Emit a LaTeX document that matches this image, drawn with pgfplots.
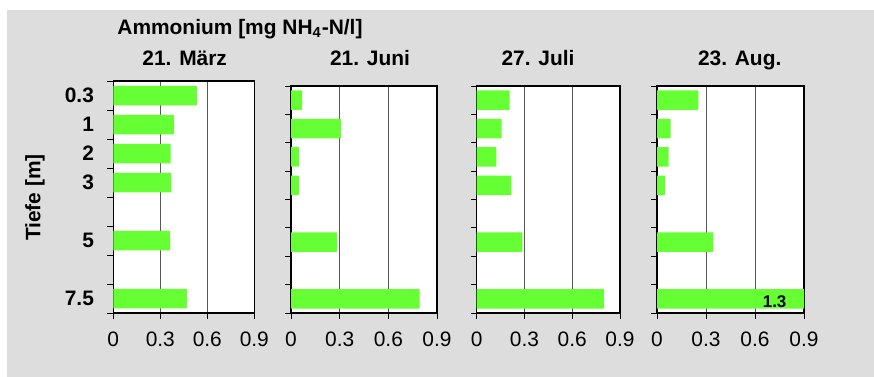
\documentclass[border=0pt]{standalone}
\usepackage{pgfplots}
\pgfplotsset{compat=1.18}
\usepackage{fontspec}
\setmainfont{Liberation Sans}
\definecolor{bg}{RGB}{221,221,221}
\definecolor{barg}{RGB}{102,255,51}
\pgfplotsset{
 panel/.style={
  scale only axis, xbar, bar width=9.75bp,
  xmin=0, xmax=0.9, ymin=-0.5, ymax=7.5, y dir=reverse,
  axis background/.style={fill=white},
  xtick={0,0.3,0.6,0.9}, xmajorgrids, grid style={black!65, line width=0.5bp},
  ytick={-0.5,0.5,1.5,2.5,3.5,4.5,5.5,6.5,7.5}, yticklabels={},
  xtick pos=bottom, ytick pos=left,
  tick align=outside, major tick length=3bp, tick style={black, line width=0.5bp},
  axis line style={black, line width=0.6bp},
  /pgf/number format/assume math mode=true,
  /pgf/number format/fixed,
  xticklabel style={font=\fontsize{10.5}{12}\selectfont, inner sep=0pt, anchor=north, yshift=-6bp},
  height=113.5bp,
 },
}
\begin{document}
\begin{tikzpicture}
\path[use as bounding box, fill=white] (0bp,0bp) rectangle (437bp,-188.5bp);
\fill[bg] (3.5bp,-5bp) rectangle (437bp,-188.5bp);
\node[anchor=base west, inner sep=0pt, font=\fontsize{10.5}{12}\selectfont\bfseries] at (58.5bp,-17bp) {Ammonium [mg NH\textsubscript{4}-N/l]};
\node[anchor=base, inner sep=0pt, font=\fontsize{10.5}{12}\selectfont\bfseries] at (92.35bp,-32.75bp) {21. März};
\node[anchor=base, inner sep=0pt, font=\fontsize{10.5}{12}\selectfont\bfseries] at (185bp,-32.75bp) {21. Juni};
\node[anchor=base, inner sep=0pt, font=\fontsize{10.5}{12}\selectfont\bfseries] at (269bp,-32.75bp) {27. Juli};
\node[anchor=base, inner sep=0pt, font=\fontsize{10.5}{12}\selectfont\bfseries] at (369.85bp,-32.75bp) {23. Aug.};
\node[rotate=90, inner sep=0pt, font=\fontsize{10.5}{12}\selectfont\bfseries] at (17.5bp,-98.75bp) {Tiefe [m]};

\begin{axis}[panel, at={(56.65bp,-156.5bp)}, anchor=south west, width=70.5bp, height=116bp,
  extra y ticks={0,1,2,3,5,7}, extra y tick labels={0.3,1,2,3,5,7.5},
  extra y tick style={tick style={draw=none}, yticklabel style={font=\fontsize{10.5}{12}\selectfont\bfseries, inner sep=0pt, anchor=east, xshift=-6.5bp}}]
\addplot[fill=barg, draw=none] coordinates {(0.534,0) (0.387,1) (0.366,2) (0.370,3) (0.362,5) (0.470,7)};
\end{axis}

\begin{axis}[panel, at={(145.5bp,-156.5bp)}, anchor=south west, width=73bp]
\addplot[fill=barg, draw=none] coordinates {(0.068,0) (0.308,1) (0.049,2) (0.049,3) (0.284,5) (0.793,7)};
\end{axis}

\begin{axis}[panel, at={(238.35bp,-156.5bp)}, anchor=south west, width=71.65bp]
\addplot[fill=barg, draw=none] coordinates {(0.207,0) (0.157,1) (0.124,2) (0.218,3) (0.287,5) (0.799,7)};
\end{axis}

\begin{axis}[panel, at={(328.5bp,-156.5bp)}, anchor=south west, width=73.5bp]
\addplot[fill=barg, draw=none] coordinates {(0.253,0) (0.084,1) (0.071,2) (0.049,3) (0.345,5) (1.3,7)};
\node[font=\fontsize{8.5}{9}\selectfont\bfseries, inner sep=0pt] at (axis cs:0.72,7.1) {1.3};
\end{axis}
\end{tikzpicture}
\end{document}
